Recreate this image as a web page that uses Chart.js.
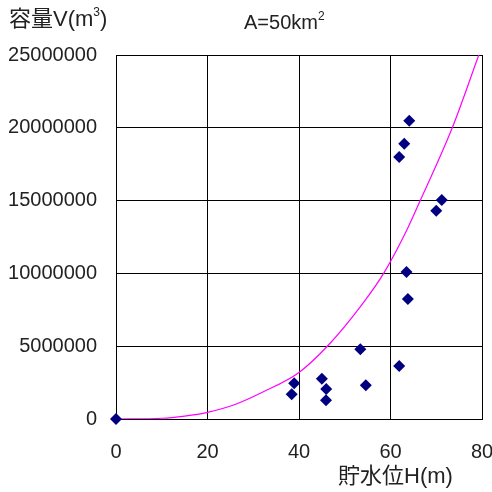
<!DOCTYPE html>
<html>
<head>
<meta charset="utf-8">
<script src="https://cdn.jsdelivr.net/npm/chart.js@4/dist/chart.umd.min.js"></script>
<style>
  html, body { margin:0; padding:0; background:#fff; }
  #wrap { position:relative; width:492px; height:492px; }
  canvas { position:absolute; left:0; top:0; }
  .lbl { position:absolute; font-family:'Liberation Sans','Noto Sans CJK JP',sans-serif; color:#222; white-space:nowrap; line-height:1; }
  .lbl sup { font-size:12px; vertical-align:top; position:relative; top:-2px; }
</style>
</head>
<body>
<div id="wrap">
  <canvas id="c" width="492" height="492"></canvas>
  <div class="lbl" style="left:9px;top:8px;font-size:22px">容量V(m<sup>3</sup>)</div>
  <div class="lbl" style="left:244px;top:12px;font-size:20px">A=50km<sup>2</sup></div>
  <div class="lbl" style="left:338px;top:465px;font-size:22px">貯水位H(m)</div>
</div>
<script>
/* observed storage points */
const OBS_H = [0, 64.1, 63.0, 61.9, 71.2, 70.0, 63.5, 63.8, 53.4, 61.9, 38.95, 38.4, 45.0, 45.95, 45.9, 54.6];
const OBS_V = [0, 20490000, 18900000, 18000000, 15040000, 14300000, 10090000, 8250000, 4790000, 3640000, 2450000, 1700000, 2770000, 2060000, 1290000, 2320000];

/* fitted curve */
const CURVE_H = [0, 10, 15, 20, 26, 32, 40, 46.5, 54, 58.5, 63.6, 66.5, 73.5, 79.3];
const CURVE_V = [0, 50000, 200000, 460000, 1000000, 1840000, 3200000, 5100000, 7960000, 10000000, 13000000, 15000000, 20000000, 25000000];

const X_TICKS = [0, 20, 40, 60, 80];
const Y_TICKS = [0, 5000000, 10000000, 15000000, 20000000, 25000000];

const FONT = { family:"'Liberation Sans', sans-serif", size:20 };

const obs = OBS_H.map((h,i) => ({ x:h, y:OBS_V[i] }));
const curve = CURVE_H.map((h,i) => ({ x:h, y:CURVE_V[i] }));

new Chart(document.getElementById('c'), {
  type:'scatter',
  data:{
    datasets:[
      { label:'obs', data:obs, pointStyle:'rectRot', pointRadius:6, pointBackgroundColor:'#000080', pointBorderColor:'#000080', borderWidth:0, clip:false, order:1 },
      { label:'curve', data:curve, showLine:true, pointRadius:0, borderColor:'#FF00FF', borderWidth:1.2, cubicInterpolationMode:'monotone', order:2 }
    ]
  },
  options:{
    responsive:false,
    animation:false,
    layout:{ padding:{ top:55, right:10, left:0, bottom:0 } },
    plugins:{ legend:{display:false}, tooltip:{enabled:false} },
    scales:{
      x:{
        type:'linear', min:0, max:80,
        afterFit: s => { s.height = 73; s.paddingLeft = 0; s.paddingRight = 0; },
        afterBuildTicks: s => { s.ticks = X_TICKS.map(v => ({ value:v })); },
        grid:{ color:'#000', lineWidth:1, drawTicks:false },
        border:{ color:'#000' },
        ticks:{ color:'#222', font:FONT, padding:21, maxRotation:0, callback: v => String(v) }
      },
      y:{
        type:'linear', min:0, max:25000000,
        afterFit: s => { s.width = 116; s.paddingTop = 0; s.paddingBottom = 0; },
        afterBuildTicks: s => { s.ticks = Y_TICKS.map(v => ({ value:v })); },
        grid:{ color:'#000', lineWidth:1, drawTicks:false },
        border:{ color:'#000' },
        ticks:{ color:'#222', font:FONT, padding:19, callback: v => String(v) }
      }
    }
  }
});
</script>
</body>
</html>
